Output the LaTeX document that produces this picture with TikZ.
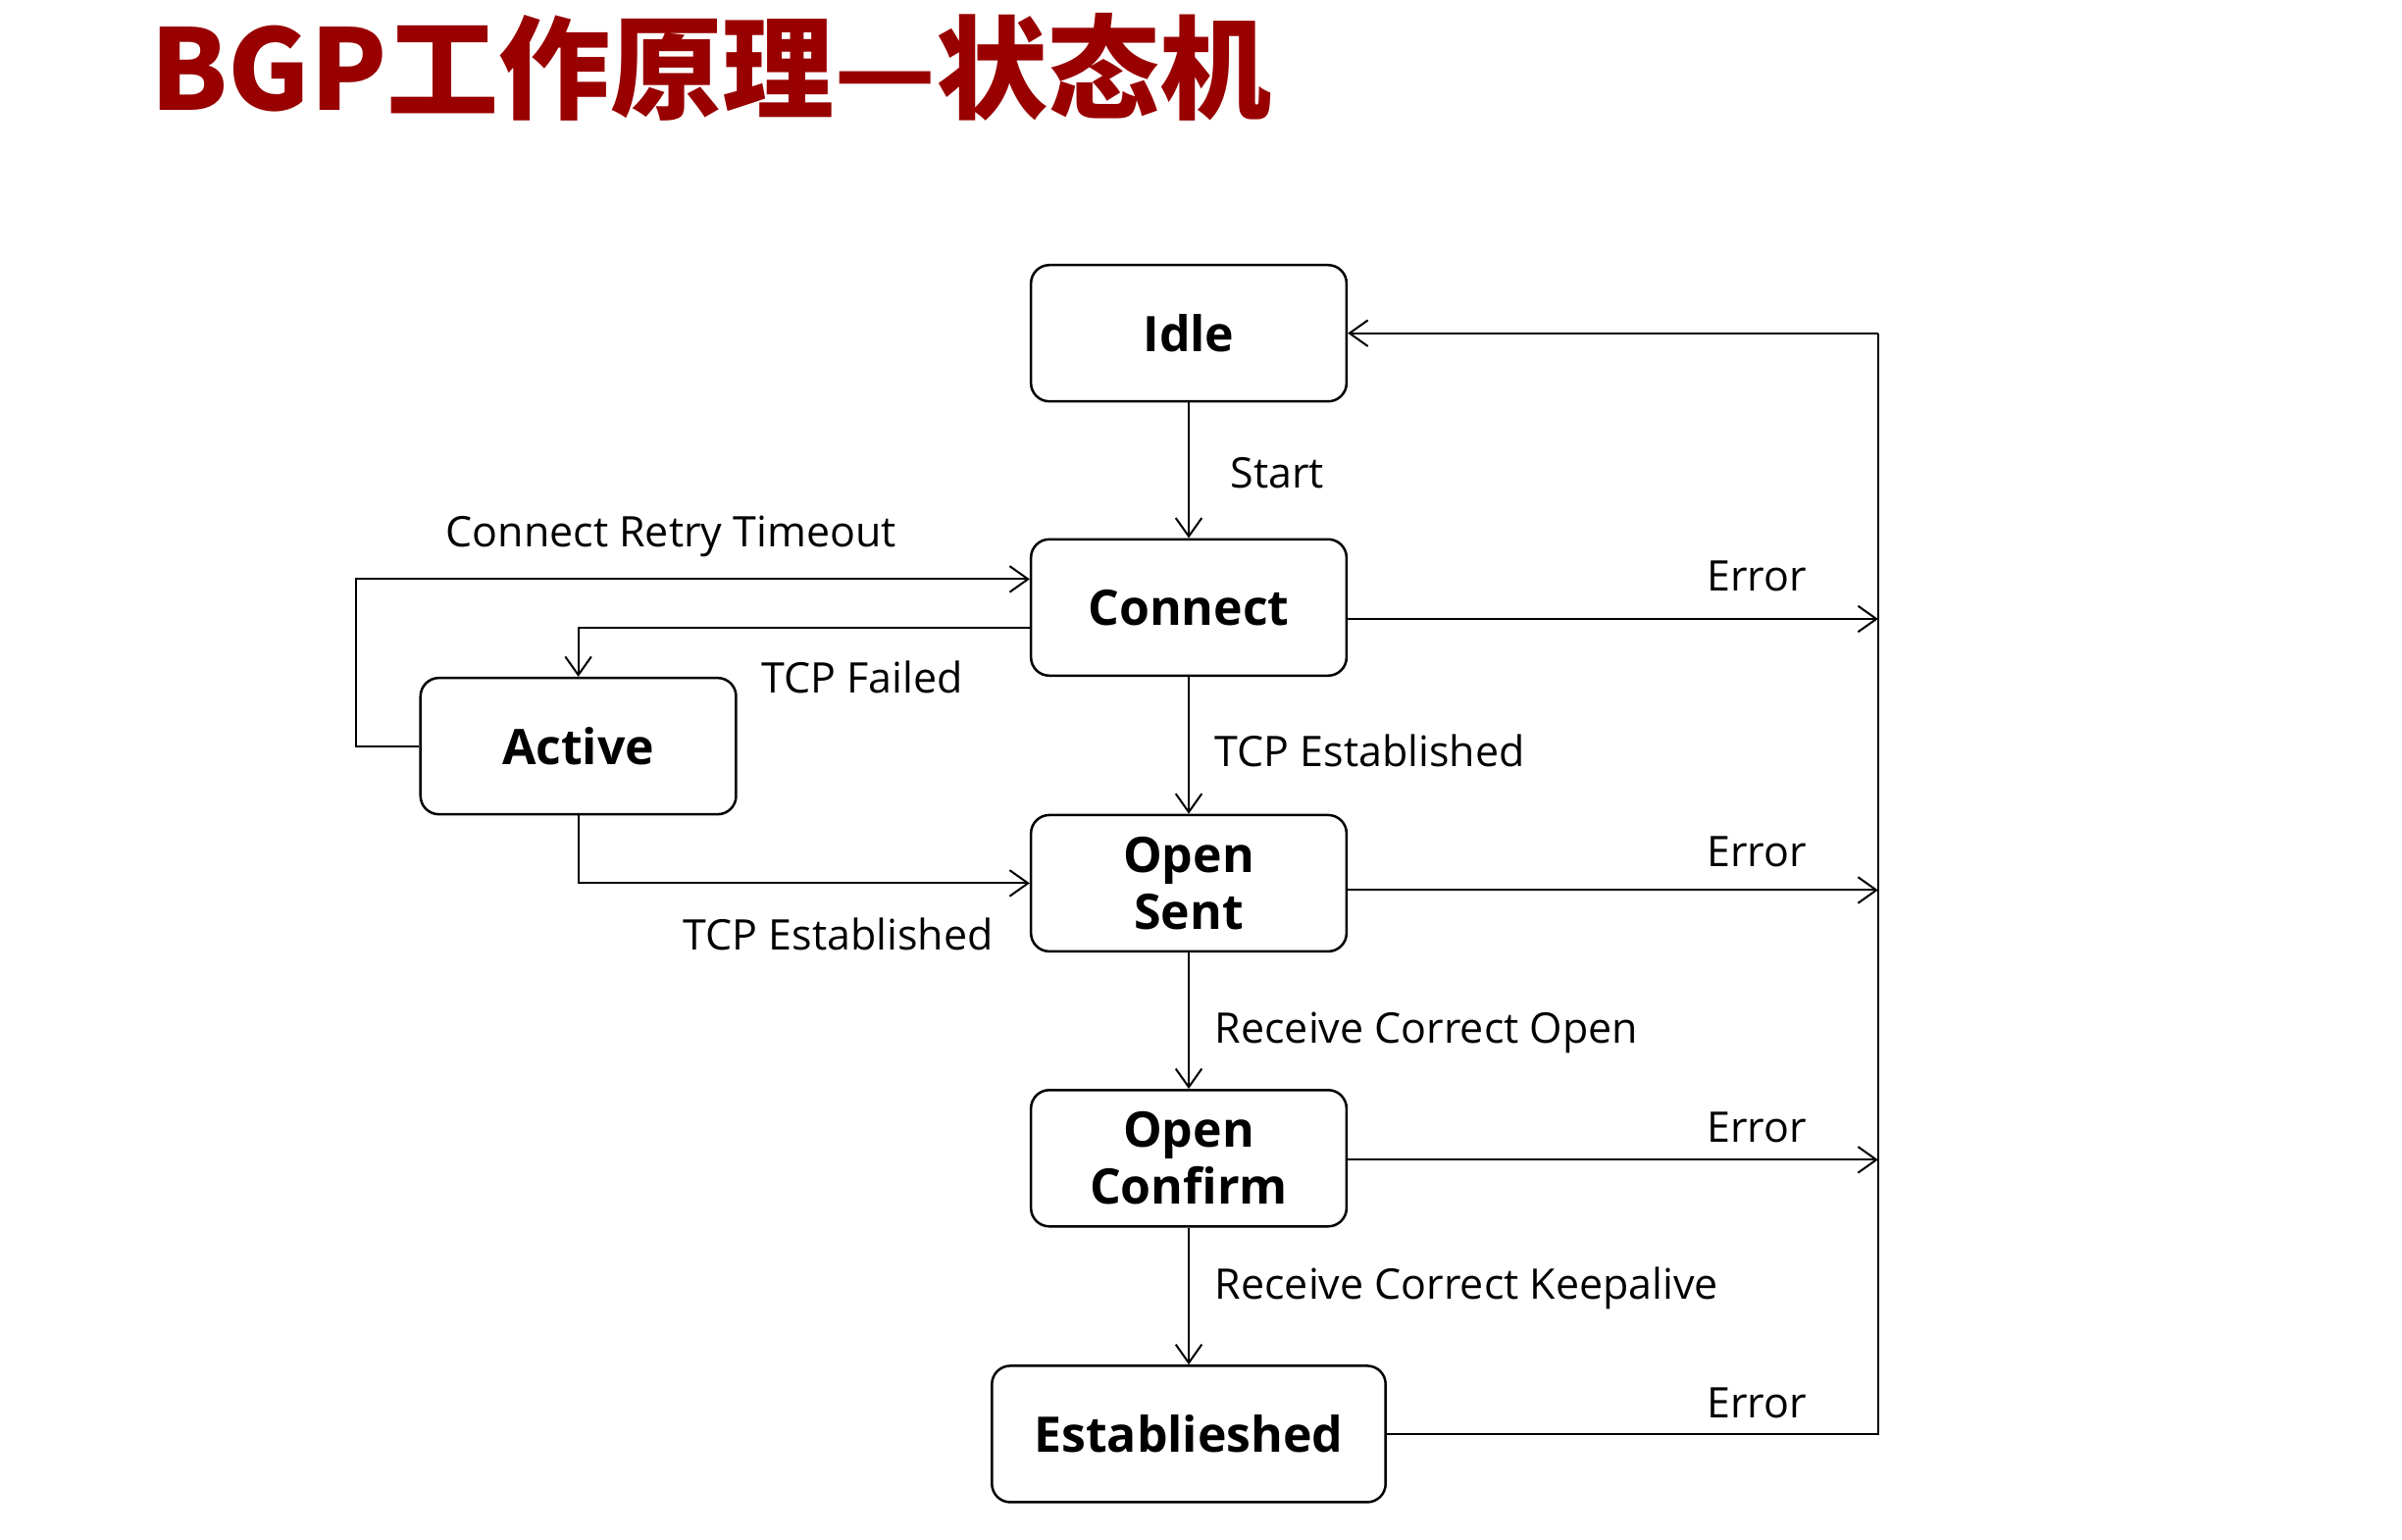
\documentclass[tikz,border=0pt]{standalone}
\usepackage{fontspec}
\setmainfont{Open Sans}
\newfontfamily\cjk{Noto Sans CJK SC}
\usetikzlibrary{arrows.meta}
\definecolor{titlered}{RGB}{153,0,0}

\begin{document}
\begin{tikzpicture}[x=1pt, y=-1pt,
    state/.style={draw, line width=1.6pt, rounded corners=12pt, minimum width=206pt,
      minimum height=89pt, inner sep=0pt, align=center,
      font=\fontsize{32}{37}\selectfont\bfseries},
    edge/.style={line width=1.3pt},
    arr/.style={edge, -{Straight Barb[length=12pt, width=17pt, line width=1.3pt]}},
    lbl/.style={anchor=west, inner sep=0pt, font=\fontsize{27.5}{30}\selectfont}]
      \useasboundingbox (0,0) rectangle (1568,1005);

      % Title
      \node[anchor=west, inner sep=0pt, text=titlered,
        font=\cjk\fontsize{73}{76}\selectfont\bfseries] (title) at (98,44) {BGP工作原理—状态机};

      % States
      \node[state] (idle) at (776,217.5) {Idle};
      \node[state] (connect) at (776,396.5) {Connect};
      \node[state] (active) at (377.5,487) {Active};
      \node[state] (opensent) at (776,576.5) {Open\\Sent};
      \node[state] (openconfirm) at (776,756) {Open\\Confirm};
      \node[state, minimum width=257pt] (established) at (776,936) {Establieshed};

      % Error bus
      \coordinate (bustop) at (1226,217.5);
      \coordinate (busbot) at (1226,937);
      \coordinate (connerr) at ([yshift=-7.5pt]connect.east);
      \coordinate (senterr) at ([yshift=-4.5pt]opensent.east);
      \coordinate (confirmerr) at ([yshift=-1pt]openconfirm.east);
      \draw[edge] (bustop) -- (busbot);
      \draw[arr] (bustop) -- (idle.east);
      \draw[arr] (connerr) -- (connerr -| bustop);
      \draw[arr] (senterr) -- (senterr -| bustop);
      \draw[arr] (confirmerr) -- (confirmerr -| bustop);
      \draw[edge] (established.east) -- (established.east -| bustop);

      % Transitions
      \draw[arr] (idle) -- (connect);
      \draw[arr] (connect) -- (opensent);
      \draw[arr] (opensent) -- (openconfirm);
      \draw[arr] (openconfirm) -- (established);
      \draw[arr] (active.west) -- ++(-41,0) |- ([yshift=18.5pt]connect.west);
      \draw[arr] ([yshift=-13.5pt]connect.west) -| (active.north);
      \draw[arr] (active.south) |- (opensent.west);

      % Labels
      \node[lbl] (lstart) at (803,309) {Start};
      \node[lbl] (lretry) at (291,350) {Connect Retry Timeout};
      \node[lbl] (lfailed) at (497,442) {TCP Failed};
      \node[lbl] (ltcp) at (793,490) {TCP Established};
      \node[lbl] (ltcpact) at (446,610) {TCP Established};
      \node[lbl] (lopen) at (793,674) {Receive Correct Open};
      \node[lbl] (lkeep) at (793,841) {Receive Correct Keepalive};
      \node[lbl] (lerr1) at (1114,376) {Error};
      \node[lbl] (lerr2) at (1114,556) {Error};
      \node[lbl] (lerr3) at (1114,736) {Error};
      \node[lbl] (lerr4) at (1114,916) {Error};
    \end{tikzpicture}
\end{document}
